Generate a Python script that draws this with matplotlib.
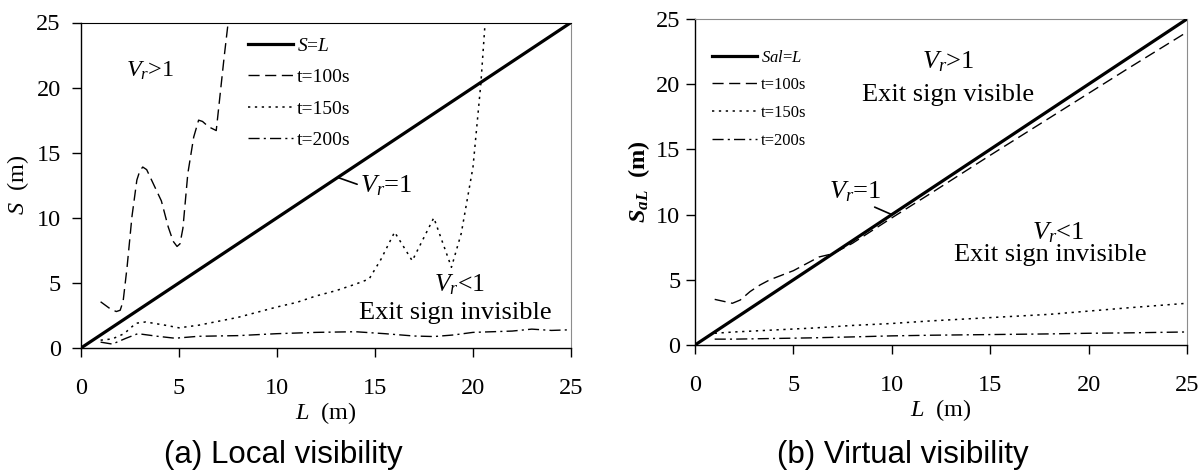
import matplotlib
matplotlib.use("Agg")
import matplotlib.pyplot as plt

# Panel (a): local visibility, S against L
L_LINE = [0, 25]
S_LINE = [0, 25]

L_A100 = [1.0, 1.5, 1.8, 2.0, 2.15, 2.35, 2.6, 2.85, 3.0, 3.15, 3.35, 3.6, 4.1, 4.45, 4.7,
          4.9, 5.05, 5.2, 5.45, 5.75, 6.0, 6.2, 6.5, 6.9, 7.1, 7.3, 7.5, 7.7]
S_A100 = [3.55, 3.0, 2.8, 2.9, 3.6, 6.2, 10.1, 12.9, 13.6, 13.9, 13.7, 12.9, 11.3, 9.3, 8.2,
          7.8, 8.0, 9.2, 13.4, 16.2, 17.5, 17.4, 17.0, 16.7, 19.5, 22.3, 24.9, 27.0]

L_A150 = [1.0, 1.6, 2.2, 2.8, 3.3, 4.3, 5.0, 6.0, 7.0, 8.0, 9.0, 10.0, 11.0, 12.0, 13.0,
          14.0, 14.7, 15.3, 16.0, 16.9, 18.0, 18.9, 19.4, 20.0, 20.4, 20.6, 20.75]
S_A150 = [0.6, 0.7, 1.1, 1.9, 2.0, 1.75, 1.55, 1.75, 2.05, 2.35, 2.75, 3.15, 3.5, 4.0, 4.4,
          4.9, 5.3, 6.8, 8.9, 6.7, 10.0, 6.2, 8.8, 13.9, 20.3, 24.6, 27.0]

L_A200 = [1.0, 1.6, 2.3, 2.9, 3.9, 4.8, 6.0, 8.0, 10.0, 12.0, 14.0, 15.5, 17.0, 18.0,
          19.0, 20.0, 21.0, 22.0, 23.0, 24.0, 25.0]
S_A200 = [0.45, 0.3, 0.75, 1.1, 0.9, 0.75, 0.9, 0.95, 1.1, 1.2, 1.25, 1.1, 0.92, 0.88,
          1.0, 1.2, 1.25, 1.3, 1.45, 1.35, 1.4]

# Panel (b): virtual visibility, S_aL against L
L_B100 = [1.0, 1.9, 2.3, 2.8, 3.3, 3.8, 5.0, 6.3, 7.0, 8.0, 10.0, 12.0, 15.0, 18.0,
          20.0, 22.0, 25.0]
S_B100 = [3.5, 3.2, 3.45, 4.1, 4.6, 5.0, 5.7, 6.75, 7.0, 7.8, 9.75, 11.65, 14.55, 17.4,
          19.3, 21.2, 24.0]

L_B = [1, 2, 4, 6, 8, 10, 12, 15, 18, 20, 22, 25]
S_B150 = [0.9, 1.0, 1.15, 1.3, 1.5, 1.65, 1.85, 2.1, 2.35, 2.6, 2.85, 3.2]
S_B200 = [0.45, 0.45, 0.5, 0.55, 0.62, 0.7, 0.75, 0.8, 0.85, 0.9, 0.93, 1.0]

TICKS = [0, 5, 10, 15, 20, 25]

SERIF = "Liberation Serif"
GREY = "#8c8c8c"
DASH = (0, (8, 4))
DOT = (0, (1.5, 3))
DASHDOT = (0, (8, 3, 1.5, 3))

plt.rcParams["font.family"] = SERIF
plt.rcParams["mathtext.fontset"] = "custom"
plt.rcParams["mathtext.rm"] = SERIF
plt.rcParams["mathtext.it"] = SERIF + ":italic"
plt.rcParams["mathtext.bf"] = SERIF + ":bold"
plt.rcParams["mathtext.bfit"] = SERIF + ":italic:bold"


def style_axes(ax, top_color, ytick_pad):
    ax.set_xlim(0, 25)
    ax.set_ylim(0, 25)
    ax.set_xticks(TICKS)
    ax.set_yticks(TICKS)
    for side in ("left", "bottom"):
        ax.spines[side].set_color("black")
        ax.spines[side].set_linewidth(1.0)
    ax.spines["top"].set_color(top_color)
    ax.spines["right"].set_color(GREY)
    ax.tick_params(direction="out", length=6.5, width=1.0, labelsize=17.5)
    ax.tick_params(axis="x", pad=15)
    ax.tick_params(axis="y", pad=ytick_pad)


fig = plt.figure(figsize=(12.04, 4.70), dpi=100)
ax1 = fig.add_axes([81 / 1204, 1 - 348 / 470, 490 / 1204, 325.5 / 470])
ax2 = fig.add_axes([695 / 1204, 1 - 345 / 470, 492 / 1204, 326 / 470])

# ---- (a) Local visibility
ax1.plot(L_LINE, S_LINE, color="black", lw=2.3, label="$S$=$L$", zorder=3)
ax1.plot(L_A100, S_A100, color="black", lw=1.0, ls=DASH, label="t=100s")
ax1.plot(L_A150, S_A150, color="black", lw=1.1, ls=DOT, label="t=150s")
ax1.plot(L_A200, S_A200, color="black", lw=1.0, ls=DASHDOT, label="t=200s")
style_axes(ax1, "black", 8)
ax1.set_xlabel("$L$  (m)", fontsize=17.5, labelpad=1)
ax1.set_ylabel("$S$  (m)", fontsize=17.5, labelpad=4)
ax1.legend(loc="upper left", bbox_to_anchor=(0.341, 0.955), frameon=False, fontsize=14,
           handlelength=2.3, handletextpad=0.2, labelspacing=0.71, borderpad=0,
           borderaxespad=0)

ax1.text(3.52, 21.3, "$V_r$>1", fontsize=17.5, ha="center", va="center")
ax1.annotate("$V_r$=1", xy=(13.1, 13.1), xytext=(14.23, 12.5), fontsize=19,
             ha="left", va="center",
             arrowprops=dict(arrowstyle="-", lw=1.2, color="black", relpos=(0, 0.5),
                             shrinkA=0, shrinkB=0))
ax1.text(19.34, 4.83, "$V_r$<1", fontsize=18.5, ha="center", va="center")
ax1.text(19.08, 2.68, "Exit sign invisible", fontsize=19, ha="center", va="center")

# ---- (b) Virtual visibility
ax2.plot(L_LINE, S_LINE, color="black", lw=2.3, label="$Sal$=$L$", zorder=3)
ax2.plot(L_B100, S_B100, color="black", lw=1.0, ls=DASH, label="t=100s")
ax2.plot(L_B, S_B150, color="black", lw=1.1, ls=DOT, label="t=150s")
ax2.plot(L_B, S_B200, color="black", lw=1.0, ls=DASHDOT, label="t=200s")
style_axes(ax2, GREY, 4)
ax2.set_xlabel("$L$  (m)", fontsize=17.5, labelpad=1)
ax2.set_ylabel(r"$\mathbfit{S_{aL}}$  (m)", fontsize=17.5, fontweight="bold", labelpad=3)
ax2.legend(loc="upper left", bbox_to_anchor=(0.035, 0.906), frameon=False, fontsize=12,
           handlelength=2.7, handletextpad=0.2, labelspacing=0.70, borderpad=0,
           borderaxespad=0)

ax2.text(12.86, 21.7, "$V_r$>1", fontsize=19, ha="center", va="center")
ax2.text(12.86, 19.2, "Exit sign visible", fontsize=19, ha="center", va="center")
ax2.text(18.45, 8.59, "$V_r$<1", fontsize=19, ha="center", va="center")
ax2.text(18.04, 6.9, "Exit sign invisible", fontsize=19, ha="center", va="center")
ax2.annotate("$V_r$=1", xy=(10.0, 10.0), xytext=(8.13, 11.73), fontsize=19,
             ha="center", va="center",
             arrowprops=dict(arrowstyle="-", lw=1.2, color="black", relpos=(0.7, 0.05),
                             shrinkA=0, shrinkB=0))

# panel captions
fig.text(283 / 1204, 1 - 455 / 470, "(a) Local visibility", fontsize=22.5,
         family="Liberation Sans", ha="center", va="center")
fig.text(903 / 1204, 1 - 455 / 470, "(b) Virtual visibility", fontsize=22.5,
         family="Liberation Sans", ha="center", va="center")

fig.savefig("out.png", dpi=100, facecolor="white")
